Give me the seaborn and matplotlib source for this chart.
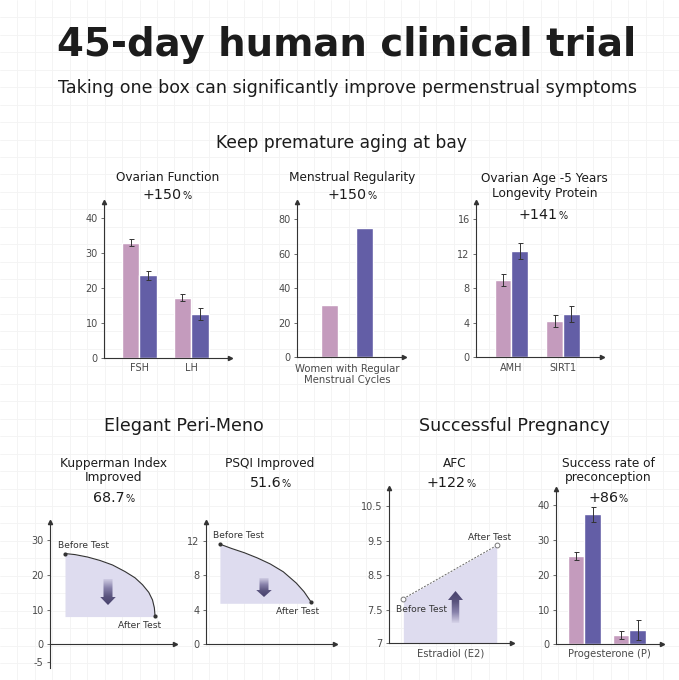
import numpy as np
import matplotlib.pyplot as plt
import seaborn as sns
import pandas as pd
from matplotlib.patches import Polygon
from matplotlib.colors import LinearSegmentedColormap

W, H = 679, 680
PINK = '#c49bbd'
PURPLE = '#635ea6'
FILL = '#dedcef'
INK = '#1c1c1c'
AXIS = '#333333'
TICK = '#4a4a4a'

# ---- data ----
ovarian_cats = ['FSH', 'LH']
ovarian_before = [32.9, 17.1]
ovarian_after = [23.6, 12.5]
ovarian_before_err = [1.0, 1.0]
ovarian_after_err = [1.3, 1.6]

menstrual_cats = ['Women with Regular\nMenstrual Cycles']
menstrual_before = [30]
menstrual_after = [75]

age_cats = ['AMH', 'SIRT1']
age_before = [8.9, 4.2]
age_after = [12.3, 5.0]
age_before_err = [0.7, 0.7]
age_after_err = [0.9, 0.9]

kupp_x = [1.2, 2.0, 3.0, 4.0, 5.0, 6.0, 6.8, 7.4, 7.9, 8.2, 8.35, 8.4]
kupp_y = [26.2, 25.9, 25.2, 24.2, 22.9, 21.0, 19.2, 17.2, 15.0, 12.8, 10.5, 8.3]
kupp_floor = 8.0

psqi_x = [1.1, 2.0, 3.0, 4.0, 5.0, 6.0, 7.0, 7.6, 8.15]
psqi_y = [11.6, 11.1, 10.6, 10.0, 9.3, 8.4, 7.1, 6.1, 4.9]
psqi_floor = 4.75

afc_x = [1.17, 8.78]
afc_y = [7.83, 9.36]
afc_ticks = [6.55, 7.5, 8.5, 9.5, 10.5]
afc_ticklabels = ['7', '7.5', '8.5', '9.5', '10.5']

preg_cats = ['Preconception', 'Progesterone (P)']
preg_before = [25.4, 2.7]
preg_after = [37.4, 4.1]
preg_before_err = [1.2, 1.1]
preg_after_err = [2.2, 3.0]


sns.set_theme(style='white')
plt.rcParams['font.family'] = ['DejaVu Sans']
plt.rcParams['axes.unicode_minus'] = False

fig = plt.figure(figsize=(W / 100, H / 100), dpi=100)
fig.patch.set_facecolor('white')

# faint background grid
bg = fig.add_axes([0, 0, 1, 1], zorder=-10)
bg.set_xlim(0, W)
bg.set_ylim(H, 0)
bg.axis('off')
for g in np.arange(17.4, W, 17.45):
    bg.axvline(g, color='#f3f3f3', lw=0.6)
for g in np.arange(17.4, H, 17.45):
    bg.axhline(g, color='#f3f3f3', lw=0.6)

# overlay in pixel coordinates for texts / decorations
ov = fig.add_axes([0, 0, 1, 1], zorder=10)
ov.axis('off')
ov.patch.set_visible(False)


def px_axes(left, right, top, bottom):
    ax = fig.add_axes([left / W, 1 - bottom / H, (right - left) / W, (bottom - top) / H])
    ax.patch.set_visible(False)
    return ax


def style_axes(ax, y0=None):
    sns.despine(ax=ax)
    for s in ['left', 'bottom']:
        ax.spines[s].set_color(AXIS)
        ax.spines[s].set_linewidth(0.8)
    if y0 is None:
        y0 = ax.get_ylim()[0]
    ax.spines['bottom'].set_position(('data', y0))
    ax.plot(1, y0, '>', color=AXIS, ms=3, transform=ax.get_yaxis_transform(), clip_on=False)
    ax.plot(0, 1, '^', color=AXIS, ms=3, transform=ax.transAxes, clip_on=False)
    ax.tick_params(axis='y', length=2.5, width=0.6, color='#555', labelsize=7,
                   labelcolor=TICK, pad=2, left=True)
    ax.tick_params(axis='x', length=0, labelsize=7, labelcolor=TICK, pad=4)
    ax.set_xlabel('')
    ax.set_ylabel('')


def grouped_bars(ax, cats, before, after, width, gap=0, errs=None):
    df = pd.DataFrame({'cat': cats * 2,
                       'stage': ['Before'] * len(cats) + ['After'] * len(cats),
                       'value': before + after})
    sns.barplot(data=df, x='cat', y='value', hue='stage', hue_order=['Before', 'After'],
                palette=[PINK, PURPLE], width=width, gap=gap, errorbar=None,
                legend=False, saturation=1, ax=ax)
    if errs is not None:
        for p, e in zip(ax.patches, errs):
            ax.errorbar(p.get_x() + p.get_width() / 2, p.get_height(), yerr=e, fmt='none',
                        ecolor='#333', elinewidth=0.7, capsize=1.8, capthick=0.7)


def txt(x, y, s, size=8.7, **kw):
    kw.setdefault('ha', 'center')
    kw.setdefault('va', 'center')
    ov.text(x, y, s, fontsize=size, color=kw.pop('color', INK), **kw)


def percent(x, y, num):
    r = fig.canvas.get_renderer()
    t1 = ov.text(0, y, num, fontsize=10.3, color=INK, va='baseline')
    t2 = ov.text(0, y, '%', fontsize=7, color=INK, va='baseline')
    w1 = t1.get_window_extent(r).width
    w2 = t2.get_window_extent(r).width
    left = x - (w1 + w2) / 2
    t1.set_x(left)
    t2.set_x(left + w1 + 0.5)


def grad_arrow(cx, top, bottom, head_len, shaft_w, head_w, down=True):
    if down:
        base = bottom - head_len
        pts = [(cx - shaft_w / 2, top), (cx + shaft_w / 2, top), (cx + shaft_w / 2, base),
               (cx + head_w / 2, base), (cx, bottom), (cx - head_w / 2, base),
               (cx - shaft_w / 2, base)]
        cols = ['#cfcce3', '#8882ab', '#5a547e', '#48426d']
    else:
        base = top + head_len
        pts = [(cx - shaft_w / 2, bottom), (cx + shaft_w / 2, bottom), (cx + shaft_w / 2, base),
               (cx + head_w / 2, base), (cx, top), (cx - head_w / 2, base),
               (cx - shaft_w / 2, base)]
        cols = ['#48426d', '#5a547e', '#8882ab', '#d6d3e8']
    patch = Polygon(pts, closed=True, fc='none', ec='none')
    ov.add_patch(patch)
    grad = np.linspace(0, 1, 100).reshape(-1, 1)
    cmap = LinearSegmentedColormap.from_list('arr', cols)
    im = ov.imshow(grad, cmap=cmap, extent=(cx - head_w / 2, cx + head_w / 2, bottom, top),
                   aspect='auto', origin='upper', interpolation='bilinear')
    im.set_clip_path(patch)


# ---- headers ----
txt(347, 45, '45-day human clinical trial', size=27.8, weight='bold')
txt(348, 88, 'Taking one box can significantly improve permenstrual symptoms', size=12.6)
txt(341, 143, 'Keep premature aging at bay', size=12.3)
txt(184, 426, 'Elegant Peri-Meno', size=12.6)
txt(514, 426, 'Successful Pregnancy', size=12.6)

# ---- panel 1: ovarian function ----
ax1 = px_axes(104, 230, 201.7, 357.7)
grouped_bars(ax1, ovarian_cats, ovarian_before, ovarian_after, width=0.677,
             errs=ovarian_before_err + ovarian_after_err)
ax1.set_ylim(0, 44.6)
ax1.set_xlim(-0.683, 1.754)
ax1.set_yticks([0, 10, 20, 30, 40])
style_axes(ax1)
txt(167.7, 177.3, 'Ovarian Function')
percent(166.7, 199, '+150')

# ---- panel 2: menstrual regularity ----
ax2 = px_axes(296.7, 404, 201.7, 357.3)
grouped_bars(ax2, menstrual_cats, menstrual_before, menstrual_after, width=1.0, gap=0.5)
ax2.set_ylim(0, 90)
ax2.set_xlim(-0.72, 0.81)
ax2.set_yticks([0, 20, 40, 60, 80])
style_axes(ax2)
ax2.tick_params(axis='x', pad=4.5, labelsize=7.3)
for lab in ax2.get_xticklabels():
    lab.set_linespacing(1.15)
txt(351.7, 177.3, 'Menstrual Regularity')
percent(351.7, 199, '+150')

# ---- panel 3: ovarian age ----
ax3 = px_axes(476, 601.7, 201.7, 357.3)
grouped_bars(ax3, age_cats, age_before, age_after, width=0.65,
             errs=age_before_err + age_after_err)
ax3.set_ylim(0, 18)
ax3.set_xlim(-0.683, 1.749)
ax3.set_yticks([0, 4, 8, 12, 16])
style_axes(ax3)
txt(544.3, 178.3, 'Ovarian Age -5 Years')
txt(544.3, 193.3, 'Longevity Protein')
percent(543, 219, '+141')

# ---- panel 4: Kupperman ----
ax4 = px_axes(50, 175, 521.7, 667.8)
ax4.fill_between(kupp_x, kupp_y, kupp_floor, color=FILL, lw=0)
sns.lineplot(x=kupp_x, y=kupp_y, color=AXIS, lw=0.8, ax=ax4)
sns.scatterplot(x=[kupp_x[0], kupp_x[-1]], y=[kupp_y[0], kupp_y[-1]], color=AXIS,
                s=9, linewidth=0, ax=ax4, zorder=5)
ax4.set_xlim(0, 10)
ax4.set_ylim(-6.8, 35.4)
ax4.set_yticks([-5, 0, 10, 20, 30])
ax4.set_xticks([])
style_axes(ax4, y0=0)
txt(113.3, 463.3, 'Kupperman Index')
txt(113.3, 477, 'Improved')
percent(113.3, 502, '68.7')
txt(57.5, 545, 'Before Test', size=6.6, ha='left', color='#333')
txt(118, 626, 'After Test', size=6.6, ha='left', color='#333')
grad_arrow(108, 579, 605, 8, 9, 15.5)

# ---- panel 5: PSQI ----
ax5 = px_axes(205.7, 335, 521.7, 644.3)
ax5.fill_between(psqi_x, psqi_y, psqi_floor, color=FILL, lw=0)
sns.lineplot(x=psqi_x, y=psqi_y, color=AXIS, lw=0.8, ax=ax5)
sns.scatterplot(x=[psqi_x[0], psqi_x[-1]], y=[psqi_y[0], psqi_y[-1]], color=AXIS,
                s=9, linewidth=0, ax=ax5, zorder=5)
ax5.set_xlim(0, 10)
ax5.set_ylim(0, 14.2)
ax5.set_yticks([0, 4, 8, 12])
ax5.set_xticks([])
style_axes(ax5)
txt(270, 463.3, 'PSQI Improved')
percent(270, 487, '51.6')
txt(213, 535, 'Before Test', size=6.6, ha='left', color='#333')
txt(276, 612, 'After Test', size=6.6, ha='left', color='#333')
grad_arrow(264, 578, 597, 7, 9, 15.5)

# ---- panel 6: AFC ----
ax6 = px_axes(389, 511.7, 488.3, 643.3)
ax6.fill_between(afc_x, afc_y, afc_ticks[0], color=FILL, lw=0)
sns.lineplot(x=afc_x, y=afc_y, color='#666', lw=0.7, linestyle=(0, (2, 1.5)), ax=ax6)
sns.scatterplot(x=afc_x, y=afc_y, facecolor='white', edgecolor='#777', linewidth=0.7,
                s=12, ax=ax6, zorder=5)
ax6.set_xlim(0, 10)
ax6.set_ylim(afc_ticks[0], 11.0)
ax6.set_yticks(afc_ticks)
ax6.set_yticklabels(afc_ticklabels)
ax6.set_xticks([])
style_axes(ax6)
txt(455, 463.3, 'AFC')
percent(451, 487, '+122')
txt(468, 537, 'After Test', size=6.6, ha='left', color='#333')
txt(396, 609, 'Before Test', size=6.6, ha='left', color='#333')
txt(450.3, 653, 'Estradiol (E2)', size=7.2, color=TICK)
grad_arrow(455.5, 591, 623, 9, 7.5, 15, down=False)

# ---- panel 7: preconception ----
ax7 = px_axes(556, 661.7, 489.3, 644.3)
grouped_bars(ax7, preg_cats, preg_before, preg_after, width=0.73,
             errs=preg_before_err + preg_after_err)
ax7.set_ylim(0, 44.6)
ax7.set_xlim(-0.633, 1.716)
ax7.set_yticks([0, 10, 20, 30, 40])
ax7.set_xticks([])
style_axes(ax7)
txt(608.3, 463.3, 'Success rate of')
txt(608.3, 477, 'preconception')
percent(608, 502, '+86')
txt(609, 654, 'Progesterone (P)', size=7.2, color=TICK)

ov.set_xlim(0, W)
ov.set_ylim(H, 0)

fig.savefig('out.png', dpi=100)
